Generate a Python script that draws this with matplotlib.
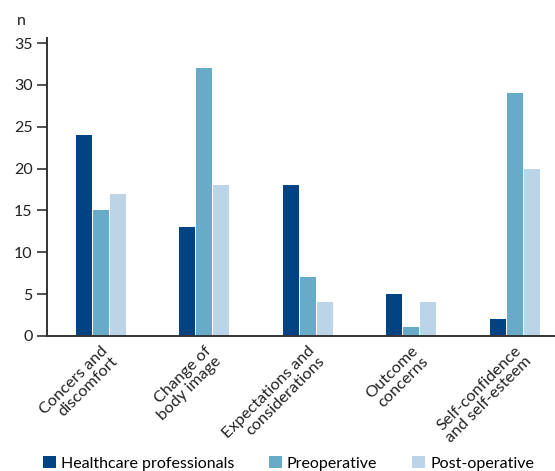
import matplotlib.pyplot as plt
import numpy as np

categories = ["Concers and\ndiscomfort", "Change of\nbody image", "Expectations and\nconsiderations",
              "Outcome\nconcerns", "Self-confidence\nand self-esteem"]
healthcare = [24, 13, 18, 5, 2]
preoperative = [15, 32, 7, 1, 29]
postoperative = [17, 18, 4, 4, 20]
series_names = ["Healthcare professionals", "Preoperative", "Post-operative"]
colors = ["#004385", "#67abc9", "#bcd4e7"]

plt.rcParams['font.family'] = ['Lato', 'DejaVu Sans']

fig = plt.figure(figsize=(5.55, 4.71), dpi=100)
ax = fig.add_axes([0.085, 0.287, 0.915, 0.632])

x = np.arange(len(categories))
w = 0.155
step = 0.165
for i, (vals, name, c) in enumerate(zip([healthcare, preoperative, postoperative], series_names, colors)):
    ax.bar(x + (i - 1) * step, vals, width=w, color=c, label=name)

ax.set_xlim(-0.517, 4.39)
ax.set_ylim(0, 35.6)
ax.set_yticks(range(0, 36, 5))
ax.tick_params(axis='y', labelsize=11.5, length=7, width=1.2, color='#333333', labelcolor='#222222')
ax.set_xticks(x)
ax.set_xticklabels(categories, rotation=45, ha='right', rotation_mode='anchor', fontsize=11.8, color='#222222', linespacing=1.0)
ax.tick_params(axis='x', length=0, pad=6)
for s in ['top', 'right']:
    ax.spines[s].set_visible(False)
for s in ['left', 'bottom']:
    ax.spines[s].set_color('#333333')
    ax.spines[s].set_linewidth(1.4)

ax.text(-0.06, 1.045, "n", transform=ax.transAxes, fontsize=11.5, color='#222222')

fig.legend(loc='lower center', bbox_to_anchor=(0.52, -0.03), ncol=3, frameon=False, fontsize=11.5,
           handlelength=0.8, handleheight=0.8, handletextpad=0.3, columnspacing=2.2)

fig.savefig("out.png", dpi=100)
